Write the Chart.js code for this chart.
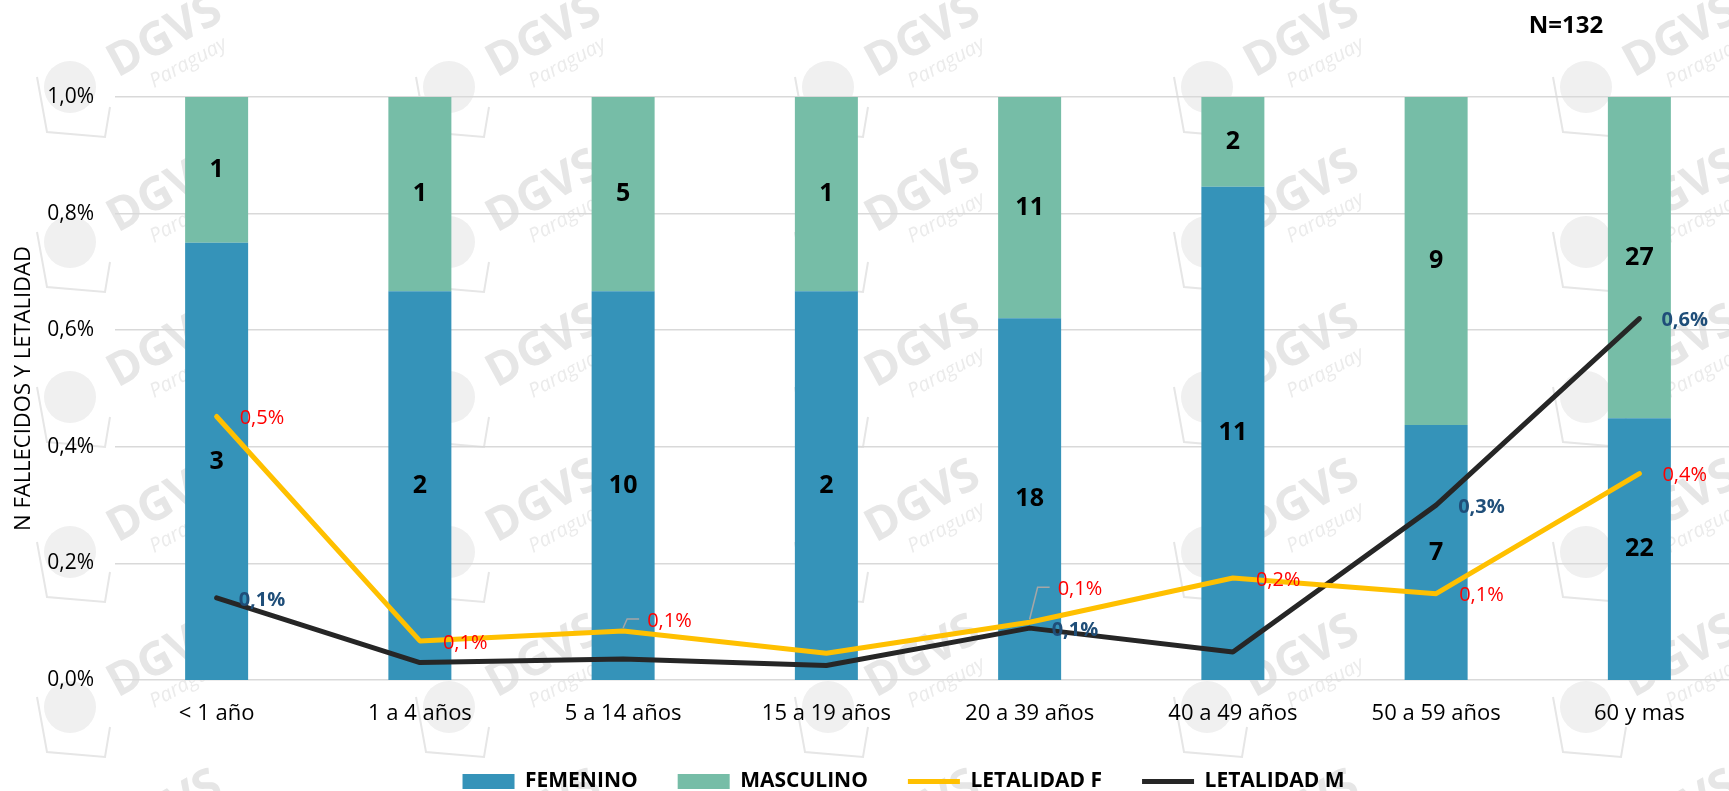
<!DOCTYPE html>
<html lang="es">
<head>
<meta charset="utf-8">
<title>Fallecidos y letalidad por grupo de edad y sexo</title>
<script src="https://cdn.jsdelivr.net/npm/chart.js@4.4.1/dist/chart.umd.min.js"></script>
<style>
  html, body { margin: 0; padding: 0; background: #fff; overflow: hidden; }
  #grafico { display: block; }
</style>
</head>
<body>
<canvas id="grafico" width="1741" height="791"></canvas>
<script>
// Datos
const categorias = ['< 1 año', '1 a 4 años', '5 a 14 años', '15 a 19 años', '20 a 39 años', '40 a 49 años', '50 a 59 años', '60 y mas'];
const femenino = [3, 2, 10, 2, 18, 11, 7, 22];
const masculino = [1, 1, 5, 1, 11, 2, 9, 27];
const letalidadF = [0.452, 0.067, 0.084, 0.046, 0.099, 0.175, 0.148, 0.354];
const letalidadM = [0.141, 0.030, 0.036, 0.025, 0.089, 0.048, 0.300, 0.620];
const ticksY = ['0,0%', '0,2%', '0,4%', '0,6%', '0,8%', '1,0%'];
const totalN = 'N=132';

// cuanto sube la etiqueta de letalidad F (con linea guia) para no pisar las lineas
const subirEtiquetaF = [0, 0, 12, 0, 35, 0, 0, 0];

const fuente = "'Open Sans', sans-serif";
const azul = '#3593B9';
const verde = '#76BDA7';
const amarillo = '#FFC000';
const negro = '#262626';

// barras al 100%: parte de cada sexo en el grupo
function proporcion(a, b) {
    return a.map((v, i) => v / (a[i] + b[i]));
}

function formato(v) {
    return v.toFixed(1).replace('.', ',') + '%';
}

// Marca de agua DGVS
const marcaAgua = {
    id: 'marcaAgua',
    beforeDraw(chart) {
        const ctx = chart.ctx;
        ctx.save();
        for (let cx = 165; cx < chart.width + 200; cx += 379) {
            for (let cy = 37; cy < chart.height + 100; cy += 155) {
                ctx.save();
                ctx.translate(cx, cy);
                // globo
                ctx.fillStyle = '#f0f0f0';
                ctx.strokeStyle = '#e6e6e6';
                ctx.lineWidth = 2;
                ctx.beginPath();
                ctx.arc(-95, 50, 26, 0, Math.PI * 2);
                ctx.fill();
                ctx.beginPath();
                ctx.moveTo(-128, 40);
                ctx.lineTo(-118, 95);
                ctx.lineTo(-60, 100);
                ctx.lineTo(-55, 70);
                ctx.stroke();
                ctx.rotate(-0.5);
                ctx.fillStyle = '#e6e6e6';
                ctx.font = 'bold 46px ' + fuente;
                ctx.textAlign = 'center';
                ctx.textBaseline = 'middle';
                ctx.fillText('DGVS', 0, 0);
                ctx.font = 'italic 20px ' + fuente;
                ctx.fillStyle = '#ebebeb';
                ctx.fillText('Paraguay', 8, 34);
                ctx.restore();
            }
        }
        ctx.restore();
    }
};

// La leyenda va algo corrida a la derecha, como en el original
const moverLeyenda = {
    id: 'moverLeyenda',
    afterLayout(chart) {
        chart.legend.left += 33;
        chart.legend.right += 33;
    }
};

// Etiquetas de datos y titulo N
const etiquetas = {
    id: 'etiquetas',
    afterDatasetsDraw(chart) {
        const ctx = chart.ctx;
        ctx.save();
        ctx.textBaseline = 'middle';

        // cantidades dentro de las barras
        ctx.textAlign = 'center';
        ctx.fillStyle = '#000';
        ctx.font = 'bold 25px ' + fuente;
        [femenino, masculino].forEach((cuentas, d) => {
            chart.getDatasetMeta(d).data.forEach((barra, i) => {
                ctx.fillText(cuentas[i], barra.x, (barra.y + barra.base) / 2);
            });
        });

        // letalidad
        ctx.textAlign = 'left';
        chart.getDatasetMeta(2).data.forEach((p, i) => {
            const texto = formato(letalidadF[i]);
            if (texto === '0,0%') return;
            const sube = subirEtiquetaF[i];
            let dx = 23;
            if (sube > 0) {
                dx = sube > 20 ? 28 : 24;
                ctx.strokeStyle = '#a6a6a6';
                ctx.lineWidth = 1.5;
                ctx.beginPath();
                ctx.moveTo(p.x, p.y - 3);
                ctx.lineTo(p.x + dx - 20, p.y - sube);
                ctx.lineTo(p.x + dx - 8, p.y - sube);
                ctx.stroke();
            }
            ctx.fillStyle = '#FF0000';
            ctx.font = '20px ' + fuente;
            ctx.fillText(texto, p.x + dx, p.y + 2 - sube);
        });
        chart.getDatasetMeta(3).data.forEach((p, i) => {
            const texto = formato(letalidadM[i]);
            if (texto === '0,0%') return;
            ctx.fillStyle = '#1F4E79';
            ctx.font = 'bold 20px ' + fuente;
            ctx.fillText(texto, p.x + 22, p.y + 2);
        });

        // N total
        ctx.textAlign = 'center';
        ctx.fillStyle = '#000';
        ctx.font = 'bold 24px ' + fuente;
        ctx.fillText(totalN, 1566, 26);
        ctx.restore();
    }
};

new Chart(document.getElementById('grafico'), {
    data: {
        labels: categorias,
        datasets: [{
            type: 'bar',
            label: 'FEMENINO',
            data: proporcion(femenino, masculino),
            backgroundColor: azul,
            yAxisID: 'y2',
            stack: 'sexo',
            order: 2,
            barPercentage: 0.31,
            categoryPercentage: 1
        }, {
            type: 'bar',
            label: 'MASCULINO',
            data: proporcion(masculino, femenino),
            backgroundColor: verde,
            yAxisID: 'y2',
            stack: 'sexo',
            order: 2,
            barPercentage: 0.31,
            categoryPercentage: 1
        }, {
            type: 'line',
            label: 'LETALIDAD F',
            data: letalidadF,
            borderColor: amarillo,
            backgroundColor: amarillo,
            borderWidth: 5,
            borderCapStyle: 'round',
            borderJoinStyle: 'round',
            pointRadius: 0,
            tension: 0,
            yAxisID: 'y',
            order: 1
        }, {
            type: 'line',
            label: 'LETALIDAD M',
            data: letalidadM,
            borderColor: negro,
            backgroundColor: negro,
            borderWidth: 5,
            borderCapStyle: 'round',
            borderJoinStyle: 'round',
            pointRadius: 0,
            tension: 0,
            yAxisID: 'y',
            order: 1
        }]
    },
    options: {
        responsive: false,
        animation: false,
        layout: {
            padding: { top: 97, right: 0, left: 0, bottom: -11 }
        },
        plugins: {
            tooltip: { enabled: false },
            legend: {
                position: 'bottom',
                labels: {
                    usePointStyle: true,
                    pointStyleWidth: 52,
                    boxHeight: 15,
                    padding: 40,
                    color: '#000',
                    font: { family: fuente, size: 21, weight: 'bold' },
                    sort: (a, b) => a.datasetIndex - b.datasetIndex,
                    generateLabels(chart) {
                        const items = Chart.defaults.plugins.legend.labels.generateLabels(chart);
                        items.forEach(it => {
                            it.pointStyle = chart.data.datasets[it.datasetIndex].type === 'line' ? 'line' : 'rect';
                        });
                        return items;
                    }
                }
            }
        },
        scales: {
            x: {
                grid: { display: false },
                border: { display: false },
                ticks: {
                    color: '#000',
                    font: { family: fuente, size: 22 },
                    padding: 13,
                    maxRotation: 0
                },
                afterFit(s) { s.height = 51; }
            },
            y: {
                min: 0,
                max: 1,
                ticks: {
                    stepSize: 0.2,
                    callback: (v, i) => ticksY[i],
                    padding: 21,
                    color: '#000',
                    font: { family: fuente, size: 21 }
                },
                grid: { color: '#d9d9d9', lineWidth: 1.5, drawTicks: false },
                border: { display: false },
                title: {
                    display: true,
                    text: 'N FALLECIDOS Y LETALIDAD',
                    color: '#000',
                    font: { family: fuente, size: 22 },
                    padding: { top: 11, bottom: 0 }
                },
                afterFit(s) { s.width = 115; }
            },
            y2: {
                stacked: true,
                min: 0,
                max: 1,
                display: false
            }
        }
    },
    plugins: [marcaAgua, moverLeyenda, etiquetas]
});
</script>
</body>
</html>
